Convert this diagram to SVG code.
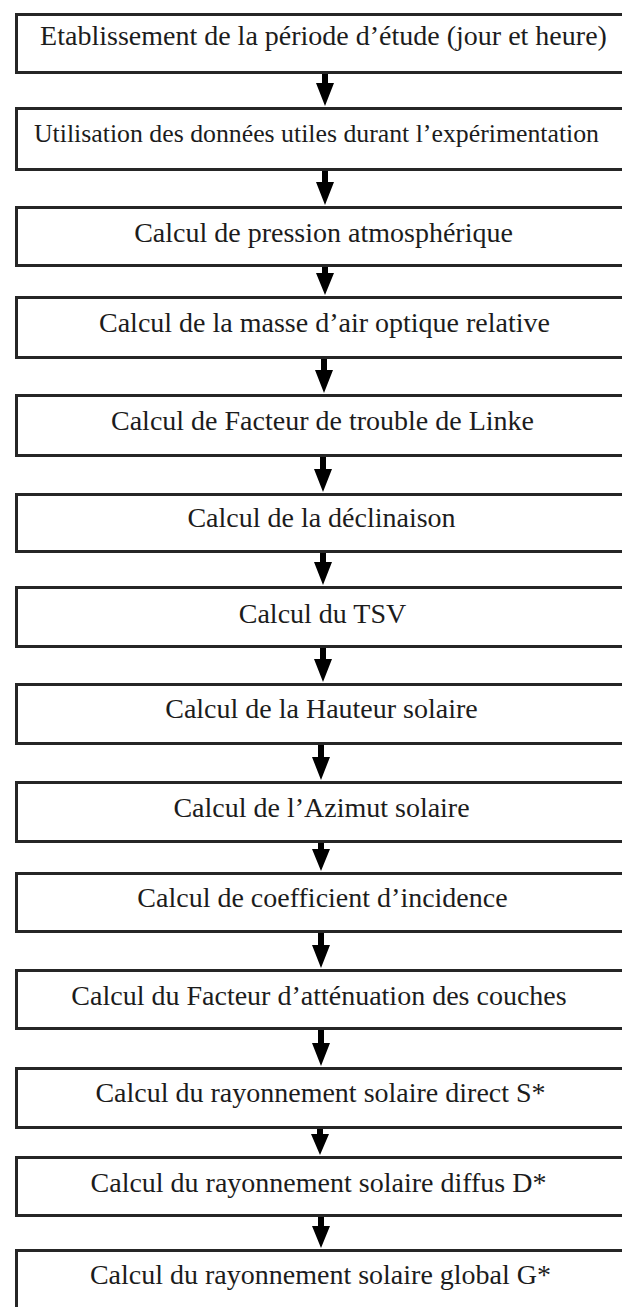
<svg xmlns="http://www.w3.org/2000/svg" xmlns:xlink="http://www.w3.org/1999/xlink" width="622" height="1307" viewBox="0 0 622 1307">
<style>
.box{fill:#ffffff;stroke:#262626;stroke-width:3}
.lbl{font-family:"Liberation Serif","Times New Roman",serif;font-size:28px;fill:#1c1c1c;text-anchor:middle}
.arr{fill:#000000;stroke:none}
</style>
<rect x="0" y="0" width="622" height="1307" fill="#ffffff"/>
<g id="n1"><rect class="box" x="16.5" y="14.5" width="640" height="58"/><text class="lbl" x="323.5" y="45">Etablissement de la période d’étude (jour et heure)</text></g>
<g id="n2"><rect class="box" x="16.5" y="108.5" width="640" height="61"/><text class="lbl" x="316.5" y="142" style="font-size:26px" textLength="565" lengthAdjust="spacingAndGlyphs">Utilisation des données utiles durant l’expérimentation</text></g>
<g id="n3"><rect class="box" x="16.5" y="207.5" width="640" height="58"/><text class="lbl" x="323.5" y="242">Calcul de pression atmosphérique</text></g>
<g id="n4"><rect class="box" x="16.5" y="297.5" width="640" height="60"/><text class="lbl" x="324.5" y="332">Calcul de la masse d’air optique relative</text></g>
<g id="n5"><rect class="box" x="16.5" y="395.5" width="640" height="60"/><text class="lbl" x="322.5" y="430">Calcul de Facteur de trouble de Linke</text></g>
<g id="n6"><rect class="box" x="16.5" y="494.5" width="640" height="57"/><text class="lbl" x="321.5" y="527">Calcul de la déclinaison</text></g>
<g id="n7"><rect class="box" x="16.5" y="587.5" width="640" height="59"/><text class="lbl" x="322.5" y="623">Calcul du TSV</text></g>
<g id="n8"><rect class="box" x="16.5" y="684.5" width="640" height="59"/><text class="lbl" x="321.5" y="718">Calcul de la Hauteur solaire</text></g>
<g id="n9"><rect class="box" x="16.5" y="782.5" width="640" height="59"/><text class="lbl" x="321.5" y="817">Calcul de l’Azimut solaire</text></g>
<g id="n10"><rect class="box" x="16.5" y="873.5" width="640" height="58"/><text class="lbl" x="322.5" y="907">Calcul de coefficient d’incidence</text></g>
<g id="n11"><rect class="box" x="16.5" y="970.5" width="640" height="58"/><text class="lbl" x="319" y="1005">Calcul du Facteur d’atténuation des couches</text></g>
<g id="n12"><rect class="box" x="16.5" y="1068.5" width="640" height="59"/><text class="lbl" x="320.5" y="1102">Calcul du rayonnement solaire direct S*</text></g>
<g id="n13"><rect class="box" x="16.5" y="1157.5" width="640" height="58"/><text class="lbl" x="318.5" y="1192">Calcul du rayonnement solaire diffus D*</text></g>
<g id="n14"><rect class="box" x="16.5" y="1250.5" width="640" height="80"/><text class="lbl" x="320.5" y="1284">Calcul du rayonnement solaire global G*</text></g>
<g id="connectors">
<path class="arr" d="M322,74 H328 V83 H334 L325,106 L316,83 H322 Z"/>
<path class="arr" d="M322,171 H328 V182 H334 L325,205 L316,182 H322 Z"/>
<path class="arr" d="M322,267 H328 V273 H334 L325,295 L316,273 H322 Z"/>
<path class="arr" d="M321,359 H327 V370 H333 L324,393 L315,370 H321 Z"/>
<path class="arr" d="M320,457 H326 V469 H332 L323,492 L314,469 H320 Z"/>
<path class="arr" d="M320,553 H326 V562 H332 L323,585 L314,562 H320 Z"/>
<path class="arr" d="M320,648 H326 V659 H332 L323,682 L314,659 H320 Z"/>
<path class="arr" d="M318,745 H324 V757 H330 L321,780 L312,757 H318 Z"/>
<path class="arr" d="M318,843 H324 V849 H330 L321,871 L312,849 H318 Z"/>
<path class="arr" d="M318,933 H324 V945 H330 L321,968 L312,945 H318 Z"/>
<path class="arr" d="M318,1030 H324 V1043 H330 L321,1066 L312,1043 H318 Z"/>
<path class="arr" d="M317,1129 H323 V1134 H329 L320,1155 L311,1134 H317 Z"/>
<path class="arr" d="M318,1217 H324 V1226 H330 L321,1248 L312,1226 H318 Z"/>
</g>
</svg>
